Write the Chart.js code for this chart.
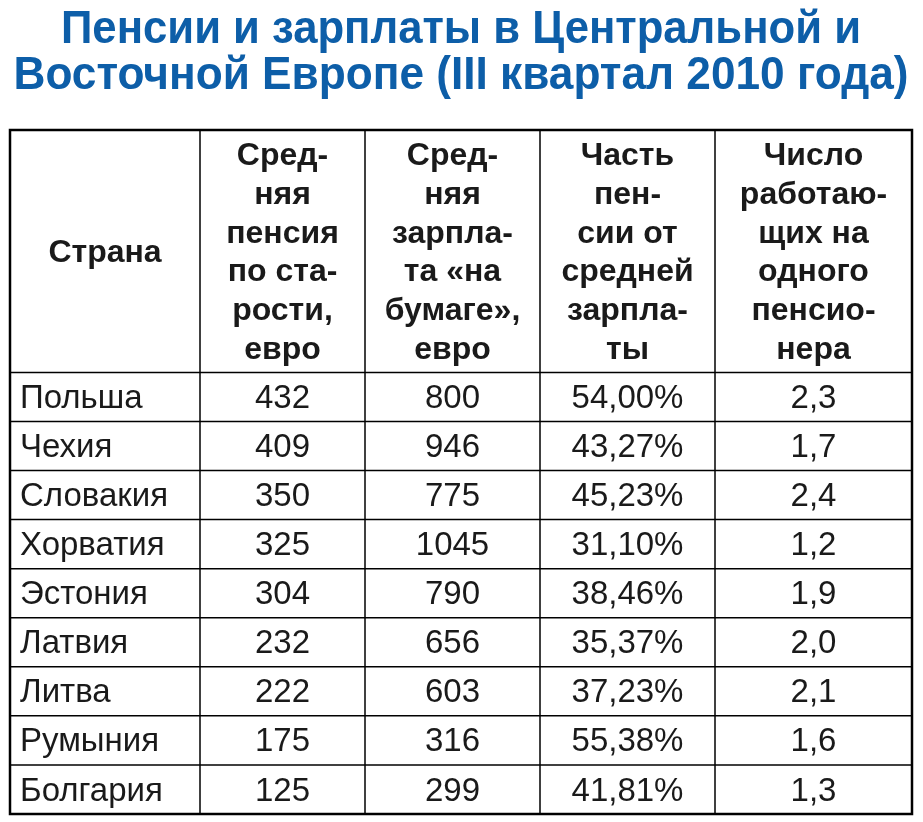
<!DOCTYPE html>
<html>
<head>
<meta charset="utf-8">
<script src="https://cdn.jsdelivr.net/npm/chart.js@4"></script>
<style>
  body { margin: 0; background: #fff; }
  #wrap { width: 923px; height: 822px; }
</style>
</head>
<body>
<div id="wrap"><canvas id="table-chart" width="923" height="822"></canvas></div>
<script>
const titleLines = ["Пенсии и зарплаты в Центральной и", "Восточной Европе (III квартал 2010 года)"];
const headers = [
  ["Страна"],
  ["Сред-", "няя", "пенсия", "по ста-", "рости,", "евро"],
  ["Сред-", "няя", "зарпла-", "та «на", "бумаге»,", "евро"],
  ["Часть", "пен-", "сии от", "средней", "зарпла-", "ты"],
  ["Число", "работаю-", "щих на", "одного", "пенсио-", "нера"]
];
const countries = ["Польша", "Чехия", "Словакия", "Хорватия", "Эстония", "Латвия", "Литва", "Румыния", "Болгария"];
const pensions = [432, 409, 350, 325, 304, 232, 222, 175, 125];
const salaries = [800, 946, 775, 1045, 790, 656, 603, 316, 299];
const shares = ["54,00%", "43,27%", "45,23%", "31,10%", "38,46%", "35,37%", "37,23%", "55,38%", "41,81%"];
const workers = ["2,3", "1,7", "2,4", "1,2", "1,9", "2,0", "2,1", "1,6", "1,3"];

// column edges in x-scale units, header spans y -4.94..0, each data row is 1 unit
const colEdges = [0, 190, 355, 530, 705, 902];
const headerTop = -4.94;

// draw text squeezed horizontally to a target width
function fitText(ctx, text, cx, cy, width) {
  const w = ctx.measureText(text).width;
  const k = Math.min(1, width / w);
  ctx.save();
  ctx.translate(cx, cy);
  ctx.scale(k, 1);
  ctx.fillText(text, 0, 0);
  ctx.restore();
}

const tablePlugin = {
  id: 'tablePlugin',
  afterDraw(chart) {
    const ctx = chart.ctx;
    const xs = chart.scales.x, ys = chart.scales.y;
    const px = v => xs.getPixelForValue(v);
    const py = v => ys.getPixelForValue(v);

    // title
    ctx.save();
    ctx.fillStyle = '#0d5ea8';
    ctx.font = 'bold 46px "Liberation Sans", Arial, sans-serif';
    ctx.textAlign = 'center';
    ctx.textBaseline = 'middle';
    fitText(ctx, titleLines[0], 461, 30, 800);
    fitText(ctx, titleLines[1], 461, 76, 895);

    // grid
    ctx.strokeStyle = '#000';
    ctx.lineWidth = 1.5;
    colEdges.forEach(e => {
      ctx.beginPath(); ctx.moveTo(px(e), py(headerTop)); ctx.lineTo(px(e), py(countries.length)); ctx.stroke();
    });
    for (let r = 0; r <= countries.length; r++) {
      ctx.beginPath(); ctx.moveTo(px(0), py(r)); ctx.lineTo(px(colEdges[5]), py(r)); ctx.stroke();
    }
    ctx.lineWidth = 2.5;
    ctx.strokeRect(px(0), py(headerTop), px(colEdges[5]) - px(0), py(countries.length) - py(headerTop));

    // header
    ctx.fillStyle = '#1a1a1a';
    ctx.font = 'bold 32px "Liberation Sans", Arial, sans-serif';
    headers.forEach((lines, c) => {
      const cx = (px(colEdges[c]) + px(colEdges[c + 1])) / 2;
      const mid = (py(headerTop) + py(0)) / 2;
      const step = 38.8;
      lines.forEach((t, i) => {
        ctx.fillText(t, cx, mid + (i - (lines.length - 1) / 2) * step + 2);
      });
    });

    // body
    ctx.font = '33px "Liberation Sans", Arial, sans-serif';
    const cols = [countries, pensions, salaries, shares, workers];
    countries.forEach((_, r) => {
      const cy = py(r + 0.5) + 2;
      cols.forEach((col, c) => {
        if (c === 0) {
          ctx.textAlign = 'left';
          ctx.fillText(col[r], px(colEdges[0]) + 10, cy);
        } else {
          ctx.textAlign = 'center';
          ctx.fillText(String(col[r]), (px(colEdges[c]) + px(colEdges[c + 1])) / 2, cy);
        }
      });
    });
    ctx.restore();
  }
};

new Chart(document.getElementById('table-chart'), {
  type: 'scatter',
  data: { datasets: [{ data: [] }] },
  options: {
    responsive: false,
    animation: { duration: 0 },
    layout: { padding: { left: 10, right: 11, top: 130, bottom: 8 } },
    scales: {
      x: { type: 'linear', min: 0, max: colEdges[5], display: false },
      y: { type: 'linear', min: headerTop, max: countries.length, reverse: true, display: false }
    },
    plugins: { legend: { display: false }, tooltip: { enabled: false } }
  },
  plugins: [tablePlugin]
});
</script>
</body>
</html>
